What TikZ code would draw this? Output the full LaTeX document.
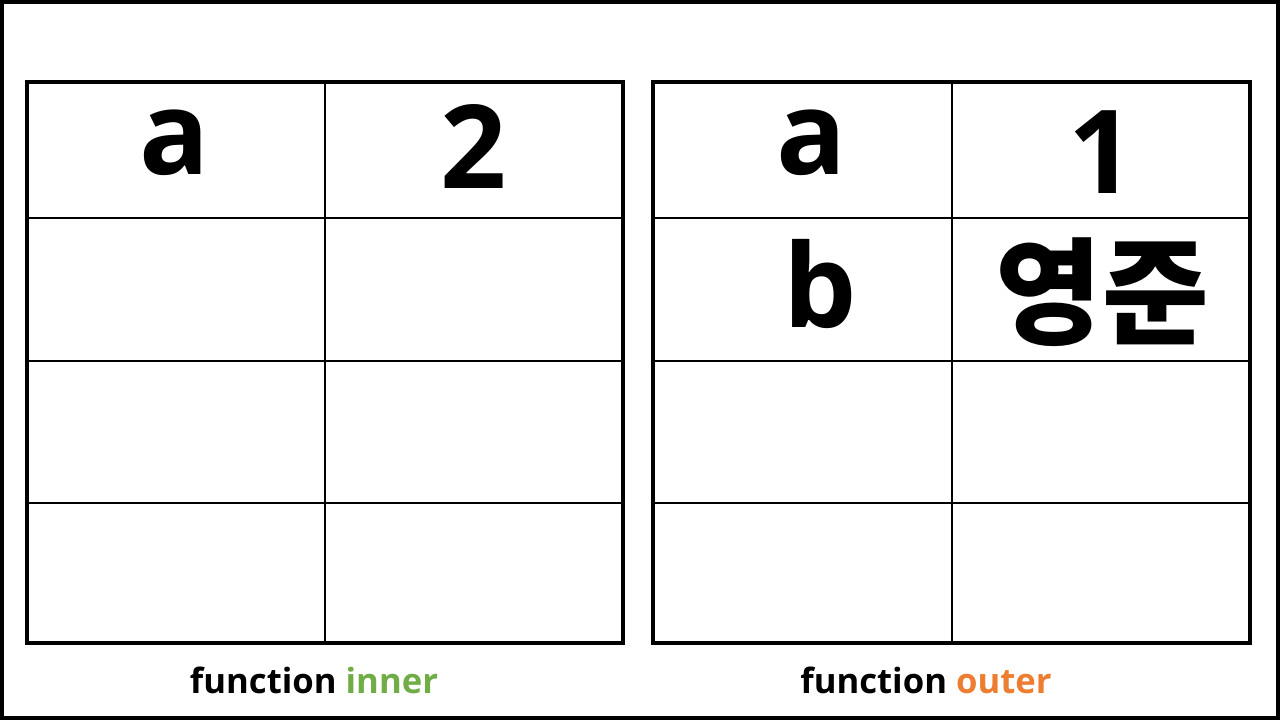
\documentclass[tikz,border=0pt]{standalone}
\usepackage{fontspec}
\setmainfont{Open Sans}
\newfontfamily\krfont{Noto Sans CJK KR}
\definecolor{innergreen}{HTML}{70AD47}
\definecolor{outerorange}{HTML}{ED7D31}
\tikzset{
  frame/.style={draw=black, line width=3pt},
  tableout/.style={draw=black, line width=3pt},
  grid line/.style={draw=black, line width=2.2pt},
  big/.style={font=\fontsize{87}{87}\selectfont\bfseries, inner sep=0pt, anchor=base},
  caption/.style={font=\fontsize{26}{26}\selectfont\bfseries, inner sep=0pt, anchor=base},
}
\begin{document}
\begin{tikzpicture}[x=0.75pt, y=-0.75pt]
\useasboundingbox (0,0) rectangle (1280,720);
\draw[frame] (2,2) rectangle (1278,718);
% left table
\draw[grid line] (325,82) -- (325,643);
\foreach \yy in {218,361,503} \draw[grid line] (27,\yy) -- (623,\yy);
\draw[tableout] (27,82) rectangle (623,643);
% right table
\draw[grid line] (952,82) -- (952,643);
\foreach \yy in {218,361,503} \draw[grid line] (653,\yy) -- (1250,\yy);
\draw[tableout] (653,82) rectangle (1250,643);
% texts
\node[big] (la) at (175,175) {a};
\node[big] (l2) at (473.5,189) {2};
\node[big] (ra) at (812,175) {a};
\node[big] (r1) at (1102,194) {1};
\node[big] (rb) at (820,327) {b};
\node[big] (rname) at (1102,335) {\krfont 영준};
\node[caption] (capl) at (314,693) {function \textcolor{innergreen}{inner}};
\node[caption] (capr) at (926,693) {function \textcolor{outerorange}{outer}};
\end{tikzpicture}
\end{document}
